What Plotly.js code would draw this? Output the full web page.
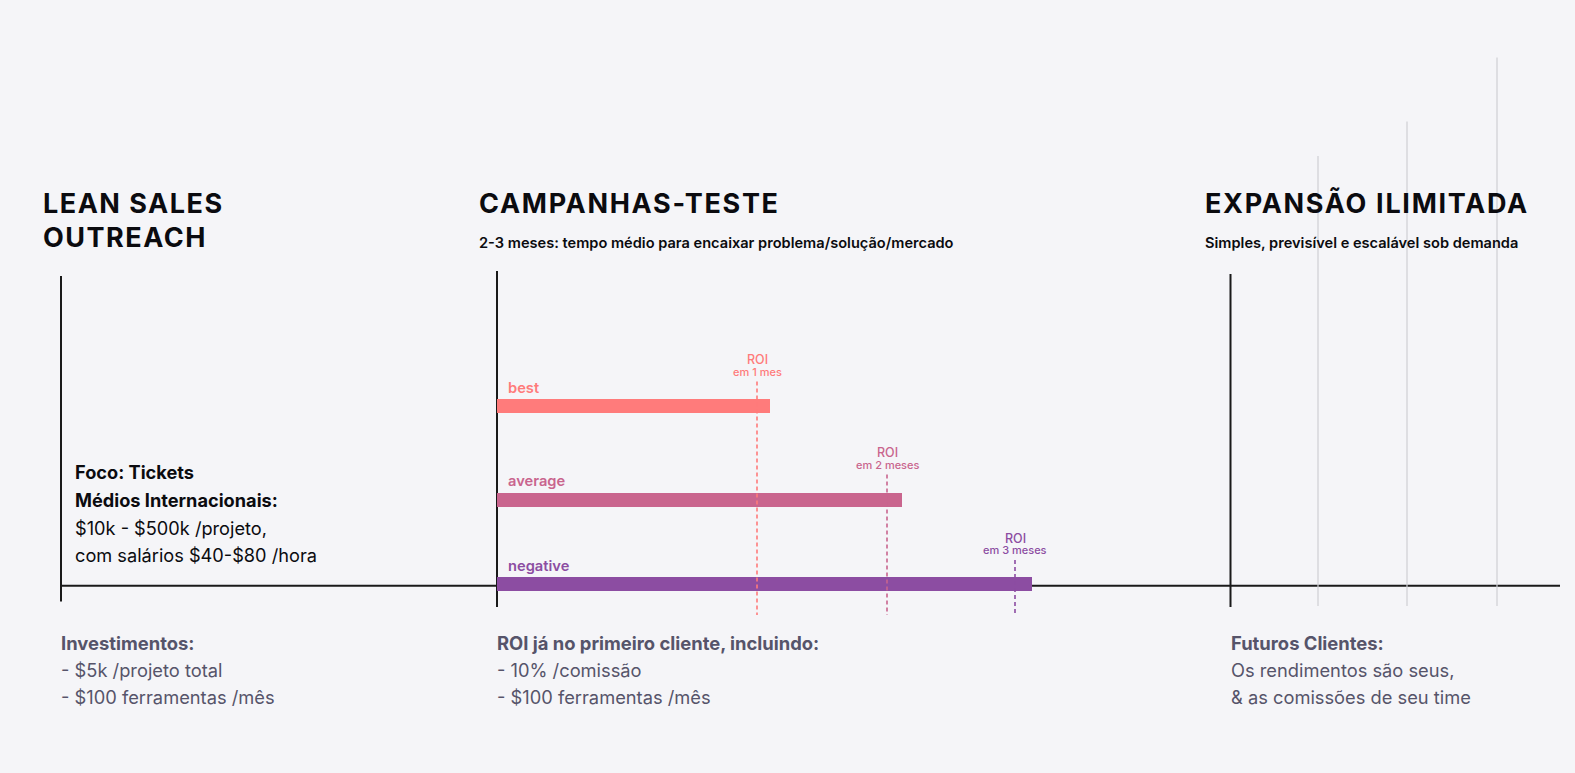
<!DOCTYPE html>
<html>
<head>
<meta charset="utf-8">
<script src="https://cdn.plot.ly/plotly-3.0.1.min.js"></script>
<style>
  html, body { margin: 0; padding: 0; background: #F5F5F8; }
  #chart { width: 1575px; height: 773px; }
</style>
</head>
<body>
<div id="chart"></div>
<script>
// ---------- data ----------
const scenarios = ['best', 'average', 'negative'];
const barLength = [273, 405, 535];          // campaign duration (axis units from campaign start)
const roiPos = [260, 390, 518];             // when ROI is reached
const roiLabels = ['em 1 mes', 'em 2 meses', 'em 3 meses'];
const stageNames = [['LEAN SALES', 'OUTREACH'], ['CAMPANHAS-TESTE'], ['EXPANSÃO ILIMITADA']];
const stageSubtitles = ['', '2-3 meses: tempo médio para encaixar problema/solução/mercado', 'Simples, previsível e escalável sob demanda'];
const stagePos = [-436, 0, 733.5];
const futureTicks = [821, 910, 1000];
const leftNotes = ['Foco: Tickets', 'Médios Internacionais:', '$10k - $500k /projeto,', 'com salários $40-$80 /hora'];
const bottomTitles = ['Investimentos:', 'ROI já no primeiro cliente, incluindo:', 'Futuros Clientes:'];
const bottomLines = [
  ['- $5k /projeto total', '- $100 ferramentas /mês'],
  ['- 10% /comissão', '- $100 ferramentas /mês'],
  ['Os rendimentos são seus,', '& as comissões de seu time']
];

// ---------- styling / layout constants ----------
const colors = ['#FF7B7B', '#C9658E', '#8C4DA2'];
const rowY = [406, 499.5, 584];
const baseY = 585.7;
const FONT = 'Inter, "Noto Sans", sans-serif';
const GREYTXT = '#56546A';
const greyTops = [156, 121.5, 57.5];
const PADX = -2;

const bars = {
  type: 'bar', orientation: 'h',
  x: barLength, y: rowY, base: 0, width: 14,
  marker: { color: colors, line: { width: 0 } },
  hoverinfo: 'skip', showlegend: false
};

const shapes = [];
// baseline
shapes.push({ type: 'line', xref: 'x', yref: 'y', x0: stagePos[0], x1: 1063, y0: baseY, y1: baseY, line: { color: '#1a1a1a', width: 2 }, layer: 'below' });
// stage verticals
const stageTop = [276, 271, 274];
stagePos.forEach((p, i) => {
  shapes.push({ type: 'line', xref: 'x', yref: 'y', x0: p, x1: p, y0: stageTop[i], y1: i === 0 ? 601.5 : 607, line: { color: '#1a1a1a', width: 2 }, layer: 'below' });
});
// future grey ticks
futureTicks.forEach((p, i) => {
  shapes.push({ type: 'line', xref: 'x', yref: 'y', x0: p, x1: p, y0: greyTops[i], y1: 606, line: { color: '#CFCFD4', width: 1.2 }, layer: 'below' });
});
// ROI dashed lines
const dashTop = [381.5, 474.5, 560];
roiPos.forEach((p, i) => {
  shapes.push({ type: 'line', xref: 'x', yref: 'y', x0: p, x1: p, y0: dashTop[i], y1: 615, line: { color: colors[i], width: 1.6, dash: '4px,3px' }, layer: 'above' });
});

const ann = [];
function txt(x, y, text, size, weight, color, extra) {
  ann.push(Object.assign({ xref: 'x', yref: 'y', x: x, y: y, text: text, showarrow: false,
    xanchor: 'left', yanchor: 'middle', xshift: PADX,
    font: { family: FONT, size: size, weight: weight, color: color } }, extra || {}));
}
// headers
const headerX = [42.5 - 497, 479 - 497, 1205 - 497];
stageNames.forEach((lines, i) => {
  lines.forEach((l, j) => txt(headerX[i], 203 + j * 34, l, 27, 700, '#0B0B0F'));
  if (stageSubtitles[i]) txt(headerX[i], 243, stageSubtitles[i], 14.6, 600, '#0B0B0F');
});
// left notes
leftNotes.forEach((l, j) => txt(75.3 - 497, 472 + j * 27.8, l, j < 2 ? 18.2 : 18.2, j < 2 ? 700 : 400, '#0B0B0F'));
// bottom notes
stagePos.forEach((p, i) => {
  txt(p, 643, bottomTitles[i], 18.4, 700, GREYTXT);
  bottomLines[i].forEach((l, j) => txt(p, 670 + j * 27, l, 18.3, 400, GREYTXT));
});
// scenario labels
scenarios.forEach((s, i) => txt(11, rowY[i] - 18.5, s, 14.7, 600, colors[i]));
// ROI labels
roiPos.forEach((p, i) => {
  txt(p, dashTop[i] - 22, 'ROI', 12.5, 500, colors[i], { xanchor: 'center', xshift: 0 });
  txt(p, dashTop[i] - 10, roiLabels[i], 11, 500, colors[i], { xanchor: 'center', xshift: 0 });
});

const layout = {
  width: 1575, height: 773,
  margin: { l: 0, r: 0, t: 0, b: 0 },
  paper_bgcolor: '#F5F5F8', plot_bgcolor: '#F5F5F8',
  xaxis: { range: [-497, 1078], visible: false, fixedrange: true },
  yaxis: { range: [773, 0], visible: false, fixedrange: true },
  shapes: shapes, annotations: ann,
  bargap: 0, showlegend: false
};

Plotly.newPlot('chart', [bars], layout, { staticPlot: true }).then(() => {
  const nodes = document.querySelectorAll('.annotation-text');
  nodes.forEach(n => {
    const st = n.getAttribute('style') || '';
    if (st.indexOf('font-size: 27px') >= 0) {
      const bb = n.getBBox();
      const isLean = /LEAN|OUTREACH/.test(n.textContent);
      n.style.letterSpacing = isLean ? '1.5px' : '1.7px';
      n.setAttribute('text-anchor', 'start');
      n.setAttribute('x', bb.x);
    }
  });
});
</script>
</body>
</html>
